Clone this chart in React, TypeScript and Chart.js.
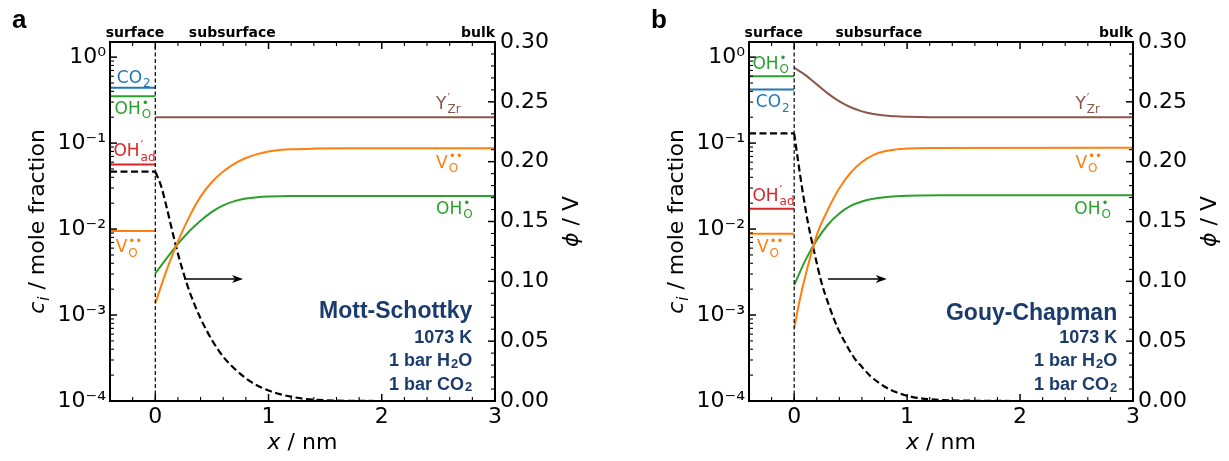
import React, { useEffect, useRef } from "react";
import { Chart, registerables } from "chart.js";
Chart.register(...registerables);

// ---------------- axis ticks ----------------
const xTicks = [0, 1, 2, 3];
const xTickLabels = ["0", "1", "2", "3"];
const cTicks = [1e-4, 1e-3, 1e-2, 1e-1, 1];
const cTickLabels = ["10⁻⁴", "10⁻³", "10⁻²", "10⁻¹", "10⁰"];
const phiTicks = [0, 0.05, 0.1, 0.15, 0.2, 0.25, 0.3];
const phiTickLabels = ["0.00", "0.05", "0.10", "0.15", "0.20", "0.25", "0.30"];

// ---------------- surface layer (x from -0.4 to 0 nm) ----------------
const xSurface = [-0.4, 0];
const surfaceSpecies = ["CO2", "OHO", "OHad", "VO"];
const surfaceA = [0.44, 0.35, 0.0565, 0.0095];
const surfaceB = [0.42, 0.598, 0.0172, 0.0088];
const phiSurfaceA = 0.1916;
const phiSurfaceB = 0.2237;
const boundaryX = [0, 0];
const boundaryPhi = [0, 0.3];

// ---------------- panel a: Mott-Schottky ----------------
const xPhiA = [0, 0.05, 0.1, 0.15, 0.2, 0.25, 0.3, 0.4, 0.5, 0.6, 0.7, 0.8, 0.9, 1.0, 1.1, 1.2, 1.3, 1.4, 1.6, 1.8, 2.0, 3.0];
const phiA = [0.1916, 0.18, 0.162, 0.142, 0.123, 0.1067, 0.092, 0.069, 0.051, 0.037, 0.027, 0.019, 0.013, 0.0088, 0.0057, 0.0036, 0.002, 0.0011, 0.0003, 0.0001, 0, 0];
const xVoA = [0, 0.1, 0.2, 0.3, 0.4, 0.5, 0.6, 0.7, 0.8, 0.9, 1.0, 1.1, 1.2, 1.4, 1.7, 3.0];
const voA = [0.00137, 0.00333, 0.00719, 0.01387, 0.02382, 0.03524, 0.04667, 0.05768, 0.06714, 0.07447, 0.07998, 0.08318, 0.08492, 0.0863, 0.0869, 0.0869];
const xOhoA = [0, 0.1, 0.2, 0.3, 0.4, 0.5, 0.6, 0.7, 0.8, 0.9, 1.0, 1.2, 3.0];
const ohoA = [0.00305, 0.00457, 0.00673, 0.00944, 0.0125, 0.01585, 0.01884, 0.02113, 0.02265, 0.0235, 0.02393, 0.02421, 0.0242];
const xYA = [0, 3.0];
const yZrA = [0.2, 0.2];

// ---------------- panel b: Gouy-Chapman ----------------
const xPhiB = [0, 0.04, 0.08, 0.12, 0.167, 0.24, 0.3, 0.387, 0.45, 0.534, 0.6, 0.68, 0.75, 0.827, 0.9, 0.975, 1.05, 1.12, 1.25, 1.4, 1.6, 2.0, 3.0];
const phiB = [0.2237, 0.197, 0.172, 0.15, 0.129, 0.0997, 0.082, 0.0607, 0.049, 0.0357, 0.0285, 0.0203, 0.0152, 0.0106, 0.0075, 0.005, 0.0033, 0.0022, 0.0011, 0.0005, 0.0002, 0, 0];
const xVoB = [0, 0.05, 0.1, 0.2, 0.3, 0.4, 0.5, 0.6, 0.7, 0.8, 0.9, 1.0, 1.2, 3.0];
const voB = [0.0007, 0.00151, 0.00289, 0.00851, 0.01698, 0.02985, 0.04519, 0.06026, 0.07244, 0.08035, 0.08453, 0.0867, 0.0877, 0.0881];
const xOhoB = [0, 0.1, 0.2, 0.3, 0.4, 0.5, 0.6, 0.7, 0.8, 0.9, 1.0, 1.3, 3.0];
const ohoB = [0.00223, 0.00435, 0.00745, 0.0113, 0.0152, 0.01858, 0.02089, 0.02249, 0.02344, 0.02404, 0.02443, 0.0247, 0.0248];
const xYB = [0, 0.1, 0.2, 0.3, 0.4, 0.5, 0.6, 0.7, 0.8, 0.9, 1.0, 1.2, 3.0];
const yZrB = [0.752, 0.618, 0.482, 0.376, 0.305, 0.261, 0.234, 0.218, 0.209, 0.205, 0.202, 0.2, 0.2];

// ---------------- styles ----------------
const COLORS: Record<string, string> = {
  CO2: "#1f77b4",
  OHO: "#2ca02c",
  OHad: "#d62728",
  VO: "#ff7f0e",
  Y: "#8c564b",
};
const FAM = "'DejaVu Sans', sans-serif";
const ANN = "'Liberation Sans', Arial, sans-serif";
const NAVY = "#1b3b6c";
const H = 461;

type Seg = { t: string; sup?: string; sub?: string; it?: boolean };
const SPECIES: Record<string, Seg[]> = {
  CO2: [{ t: "CO", sub: "2" }],
  OHO: [{ t: "OH", sup: "•", sub: "O" }],
  OHad: [{ t: "OH", sup: "′", sub: "ad" }],
  VO: [{ t: "V", sup: "••", sub: "O" }],
  Y: [{ t: "Y", sup: "′", sub: "Zr" }],
};

function fontStr(size: number, family: string, weight = "normal", italic = false) {
  return `${italic ? "italic " : ""}${weight} ${size}px ${family}`;
}

type RichOpts = { size: number; small?: number; family: string; weight?: string; color: string; align: "left" | "right" | "center"; supUp?: number; subDown?: number };

function segWidth(ctx: CanvasRenderingContext2D, s: Seg, o: RichOpts, small: number) {
  ctx.font = fontStr(o.size, o.family, o.weight, s.it);
  const w = ctx.measureText(s.t).width;
  let e = 0;
  ctx.font = fontStr(small, o.family, o.weight, s.it);
  if (s.sup) e = Math.max(e, ctx.measureText(s.sup).width);
  if (s.sub) e = Math.max(e, ctx.measureText(s.sub).width);
  return w + e + (s.sup || s.sub ? 1 : 0);
}

function drawRich(ctx: CanvasRenderingContext2D, segs: Seg[], x: number, yMid: number, o: RichOpts) {
  const small = o.small ?? Math.round(o.size * 0.7);
  const total = segs.reduce((a, s) => a + segWidth(ctx, s, o, small), 0);
  let cx = o.align === "left" ? x : o.align === "right" ? x - total : x - total / 2;
  const base = yMid + o.size * 0.36;
  ctx.fillStyle = o.color;
  ctx.textAlign = "left";
  ctx.textBaseline = "alphabetic";
  for (const s of segs) {
    ctx.font = fontStr(o.size, o.family, o.weight, s.it);
    ctx.fillText(s.t, cx, base);
    const w = ctx.measureText(s.t).width;
    ctx.font = fontStr(small, o.family, o.weight, s.it);
    let e = 0;
    if (s.sup) {
      ctx.fillText(s.sup, cx + w + 1, base - o.size * (o.supUp ?? 0.42));
      e = Math.max(e, ctx.measureText(s.sup).width);
    }
    if (s.sub) {
      ctx.fillText(s.sub, cx + w + 1, base + o.size * (o.subDown ?? 0.24));
      e = Math.max(e, ctx.measureText(s.sub).width);
    }
    cx += w + e + (s.sup || s.sub ? 1 : 0);
  }
}

type LabelPos = { key: string; x: number; c: number };
interface PanelCfg {
  letter: string;
  surf: number[];
  phiSurf: number;
  xPhi: number[];
  phi: number[];
  xVo: number[];
  vo: number[];
  xOho: number[];
  oho: number[];
  xY: number[];
  yZr: number[];
  labels: LabelPos[];
  title: string;
  annX: number;
  annPhi: number[];
  arrow: number[];
  surfaceX: number;
  subsurfaceX: number;
}

const panelA: PanelCfg = {
  letter: "a",
  surf: surfaceA,
  phiSurf: phiSurfaceA,
  xPhi: xPhiA,
  phi: phiA,
  xVo: xVoA,
  vo: voA,
  xOho: xOhoA,
  oho: ohoA,
  xY: xYA,
  yZr: yZrA,
  labels: [
    { key: "CO2", x: -0.34, c: 0.594 },
    { key: "OHO", x: -0.36, c: 0.259 },
    { key: "OHad", x: -0.37, c: 0.0824 },
    { key: "VO", x: -0.35, c: 0.0063 },
    { key: "Y", x: 2.48, c: 0.294 },
    { key: "VO", x: 2.48, c: 0.0612 },
    { key: "OHO", x: 2.48, c: 0.0176 },
  ],
  title: "Mott-Schottky",
  annX: 2.8,
  annPhi: [0.076, 0.0543, 0.0343, 0.015],
  arrow: [0.255, 0.775, 0.102],
  surfaceX: -0.18,
  subsurfaceX: 0.68,
};

const panelB: PanelCfg = {
  letter: "b",
  surf: surfaceB,
  phiSurf: phiSurfaceB,
  xPhi: xPhiB,
  phi: phiB,
  xVo: xVoB,
  vo: voB,
  xOho: xOhoB,
  oho: ohoB,
  xY: xYB,
  yZr: yZrB,
  labels: [
    { key: "OHO", x: -0.37, c: 0.859 },
    { key: "CO2", x: -0.34, c: 0.306 },
    { key: "OHad", x: -0.37, c: 0.0251 },
    { key: "VO", x: -0.33, c: 0.0063 },
    { key: "Y", x: 2.49, c: 0.294 },
    { key: "VO", x: 2.49, c: 0.0612 },
    { key: "OHO", x: 2.48, c: 0.0176 },
  ],
  title: "Gouy-Chapman",
  annX: 2.86,
  annPhi: [0.0746, 0.0535, 0.0343, 0.0142],
  arrow: [0.3, 0.82, 0.102],
  surfaceX: -0.18,
  subsurfaceX: 0.75,
};

const pts = (xs: number[], ys: number[]) => xs.map((x, i) => ({ x, y: ys[i] }));

function line(xs: number[], ys: number[], color: string, axis: string, extra: any = {}) {
  return {
    type: "line",
    data: pts(xs, ys),
    borderColor: color,
    backgroundColor: color,
    borderWidth: 2,
    pointRadius: 0,
    fill: false,
    yAxisID: axis,
    tension: 0,
    ...extra,
  };
}

const decorPlugin = {
  id: "decor",
  afterDatasetsDraw(chart: any) {
    const cfg: PanelCfg = chart.options.plugins.decor.cfg;
    const ctx: CanvasRenderingContext2D = chart.ctx;
    const { left, right, top, bottom } = chart.chartArea;
    const xs = chart.scales.x;
    const ys = chart.scales.y;
    const ps = chart.scales.y2;
    ctx.save();
    ctx.strokeStyle = "#000";
    const tick = (x1: number, y1: number, x2: number, y2: number, w: number) => {
      ctx.lineWidth = w;
      ctx.beginPath();
      ctx.moveTo(x1, y1);
      ctx.lineTo(x2, y2);
      ctx.stroke();
    };
    // x ticks (bottom and top, inward)
    for (let i = -2; i <= 15; i++) {
      const px = xs.getPixelForValue(i * 0.2);
      const major = i % 5 === 0;
      const L = major ? 7 : 4;
      const w = major ? 1.5 : 1.1;
      tick(px, bottom, px, bottom - L, w);
      tick(px, top, px, top + L, w);
    }
    // log ticks on left
    for (let d = -4; d <= 0; d++) {
      for (let m = 1; m <= 9; m++) {
        const v = m * Math.pow(10, d);
        if (v > ys.max) break;
        const py = ys.getPixelForValue(v);
        const major = m === 1;
        tick(left, py, left + (major ? 7 : 4), py, major ? 1.5 : 1.1);
      }
    }
    // phi ticks on right
    for (let i = 0; i <= 30; i++) {
      const py = ps.getPixelForValue(i / 100);
      const major = i % 5 === 0;
      tick(right, py, right - (major ? 7 : 4), py, major ? 1.5 : 1.1);
    }
    // frame
    ctx.lineWidth = 2;
    ctx.strokeRect(left, top, right - left, bottom - top);

    // arrow pointing to the phi axis
    const ax0 = xs.getPixelForValue(cfg.arrow[0]);
    const ax1 = xs.getPixelForValue(cfg.arrow[1]);
    const ay = ps.getPixelForValue(cfg.arrow[2]);
    ctx.lineWidth = 1.5;
    ctx.beginPath();
    ctx.moveTo(ax0, ay);
    ctx.lineTo(ax1 - 4, ay);
    ctx.stroke();
    ctx.fillStyle = "#000";
    ctx.beginPath();
    ctx.moveTo(ax1, ay);
    ctx.lineTo(ax1 - 11, ay - 4);
    ctx.lineTo(ax1 - 8, ay);
    ctx.lineTo(ax1 - 11, ay + 4);
    ctx.closePath();
    ctx.fill();

    // species labels
    for (const lb of cfg.labels) {
      drawRich(ctx, SPECIES[lb.key], xs.getPixelForValue(lb.x), ys.getPixelForValue(lb.c), {
        size: 17,
        small: 12,
        family: FAM,
        color: COLORS[lb.key],
        align: "left",
      });
    }

    // annotation block
    const annX = xs.getPixelForValue(cfg.annX);
    const annOpts = { family: ANN, weight: "bold", color: NAVY, align: "right" as const };
    drawRich(ctx, [{ t: cfg.title }], annX, ps.getPixelForValue(cfg.annPhi[0]), { ...annOpts, size: 23 });
    drawRich(ctx, [{ t: "1073 K" }], annX, ps.getPixelForValue(cfg.annPhi[1]), { ...annOpts, size: 18 });
    drawRich(ctx, [{ t: "1 bar H", sub: "2" }, { t: "O" }], annX, ps.getPixelForValue(cfg.annPhi[2]), { ...annOpts, size: 18, small: 13, subDown: 0.1 });
    drawRich(ctx, [{ t: "1 bar CO", sub: "2" }], annX, ps.getPixelForValue(cfg.annPhi[3]), { ...annOpts, size: 18, small: 13, subDown: 0.1 });

    // region labels above the frame
    ctx.fillStyle = "#000";
    ctx.font = fontStr(14, FAM, "bold");
    ctx.textBaseline = "alphabetic";
    ctx.textAlign = "center";
    ctx.fillText("surface", xs.getPixelForValue(cfg.surfaceX), top - 5);
    ctx.fillText("subsurface", xs.getPixelForValue(cfg.subsurfaceX), top - 5);
    ctx.textAlign = "right";
    ctx.fillText("bulk", right, top - 5);

    // panel letter
    ctx.textAlign = "left";
    ctx.font = fontStr(26, ANN, "bold");
    ctx.fillText(cfg.letter, left - 98, 28);

    // axis titles
    const tOpts = { size: 22, small: 15, family: FAM, color: "#000", align: "center" as const };
    drawRich(ctx, [{ t: "x", it: true }, { t: " / nm" }], (left + right) / 2, 441, tOpts);
    const cy = (top + bottom) / 2;
    ctx.save();
    ctx.translate(left - 74, cy);
    ctx.rotate(-Math.PI / 2);
    drawRich(ctx, [{ t: "c", it: true, sub: "i" }, { t: " / mole fraction" }], 0, 0, { ...tOpts, subDown: 0.22 });
    ctx.restore();
    ctx.save();
    ctx.translate(right + 75, cy);
    ctx.rotate(-Math.PI / 2);
    drawRich(ctx, [{ t: "ϕ", it: true }, { t: " / V" }], 0, 0, tOpts);
    ctx.restore();

    ctx.restore();
  },
};

function buildConfig(cfg: PanelCfg, width: number, plotRight: number): any {
  const tickFont = { family: FAM, size: 22 };
  const datasets: any[] = [];
  datasets.push(line(boundaryX, boundaryPhi, "#000", "y2", { borderWidth: 1.2, borderDash: [4, 2.5] }));
  surfaceSpecies.forEach((sp, i) => {
    datasets.push(line(xSurface, [cfg.surf[i], cfg.surf[i]], COLORS[sp], "y"));
  });
  datasets.push(line(cfg.xY, cfg.yZr, COLORS.Y, "y", { cubicInterpolationMode: "monotone" }));
  datasets.push(line(cfg.xVo, cfg.vo, COLORS.VO, "y", { cubicInterpolationMode: "monotone" }));
  datasets.push(line(cfg.xOho, cfg.oho, COLORS.OHO, "y", { cubicInterpolationMode: "monotone" }));
  datasets.push(line(xSurface, [cfg.phiSurf, cfg.phiSurf], "#000", "y2", { borderWidth: 2.2, borderDash: [7, 3.5] }));
  datasets.push(line(cfg.xPhi, cfg.phi, "#000", "y2", { borderWidth: 2.2, borderDash: [7, 3.5], cubicInterpolationMode: "monotone" }));

  return {
    type: "line",
    data: { datasets },
    plugins: [decorPlugin],
    options: {
      animation: false,
      responsive: false,
      devicePixelRatio: 1,
      events: [],
      layout: { padding: { top: 42, left: 0, right: 0, bottom: 0 } },
      plugins: {
        legend: { display: false },
        tooltip: { enabled: false },
        decor: { cfg },
      },
      scales: {
        x: {
          type: "linear",
          position: "bottom",
          min: -0.4,
          max: 3,
          grid: { display: false, drawTicks: false },
          border: { display: false },
          ticks: {
            font: tickFont,
            color: "#000",
            padding: 3,
            autoSkip: false,
            maxRotation: 0,
            callback: (v: number) => {
              const i = xTicks.indexOf(v);
              return i >= 0 ? xTickLabels[i] : "";
            },
          },
          afterBuildTicks: (s: any) => {
            s.ticks = xTicks.map((v) => ({ value: v }));
          },
          afterFit: (s: any) => {
            s.height = 60;
          },
        },
        y: {
          type: "logarithmic",
          position: "left",
          min: 1e-4,
          max: 1.5,
          grid: { display: false, drawTicks: false },
          border: { display: false },
          ticks: {
            font: tickFont,
            color: "#000",
            padding: 4,
            autoSkip: false,
            callback: (v: number) => {
              const i = cTicks.indexOf(v);
              return i >= 0 ? cTickLabels[i] : "";
            },
          },
          afterBuildTicks: (s: any) => {
            s.ticks = cTicks.map((v) => ({ value: v }));
          },
          afterFit: (s: any) => {
            s.width = 110;
          },
        },
        y2: {
          type: "linear",
          position: "right",
          min: 0,
          max: 0.3,
          grid: { display: false, drawTicks: false },
          border: { display: false },
          ticks: {
            font: tickFont,
            color: "#000",
            padding: 5,
            autoSkip: false,
            callback: (v: number) => {
              const i = phiTicks.findIndex((t) => Math.abs(t - v) < 1e-9);
              return i >= 0 ? phiTickLabels[i] : "";
            },
          },
          afterBuildTicks: (s: any) => {
            s.ticks = phiTicks.map((v) => ({ value: v }));
          },
          afterFit: (s: any) => {
            s.width = width - plotRight;
          },
        },
      },
    },
  };
}

function Panel({ cfg, left, width, plotRight }: { cfg: PanelCfg; left: number; width: number; plotRight: number }) {
  const ref = useRef<HTMLCanvasElement>(null);
  useEffect(() => {
    const chart = new Chart(ref.current as HTMLCanvasElement, buildConfig(cfg, width, plotRight));
    return () => chart.destroy();
  }, [cfg, width, plotRight]);
  return (
    <canvas
      ref={ref}
      width={width}
      height={H}
      style={{ position: "absolute", left, top: 0, width, height: H }}
    />
  );
}

export default function App() {
  return (
    <div
      style={{
        position: "fixed",
        left: 0,
        top: 0,
        width: 1229,
        height: H,
        background: "#fff",
        overflow: "hidden",
      }}
    >
      <Panel cfg={panelA} left={0} width={614} plotRight={495} />
      <Panel cfg={panelB} left={639} width={590} plotRight={494} />
    </div>
  );
}
